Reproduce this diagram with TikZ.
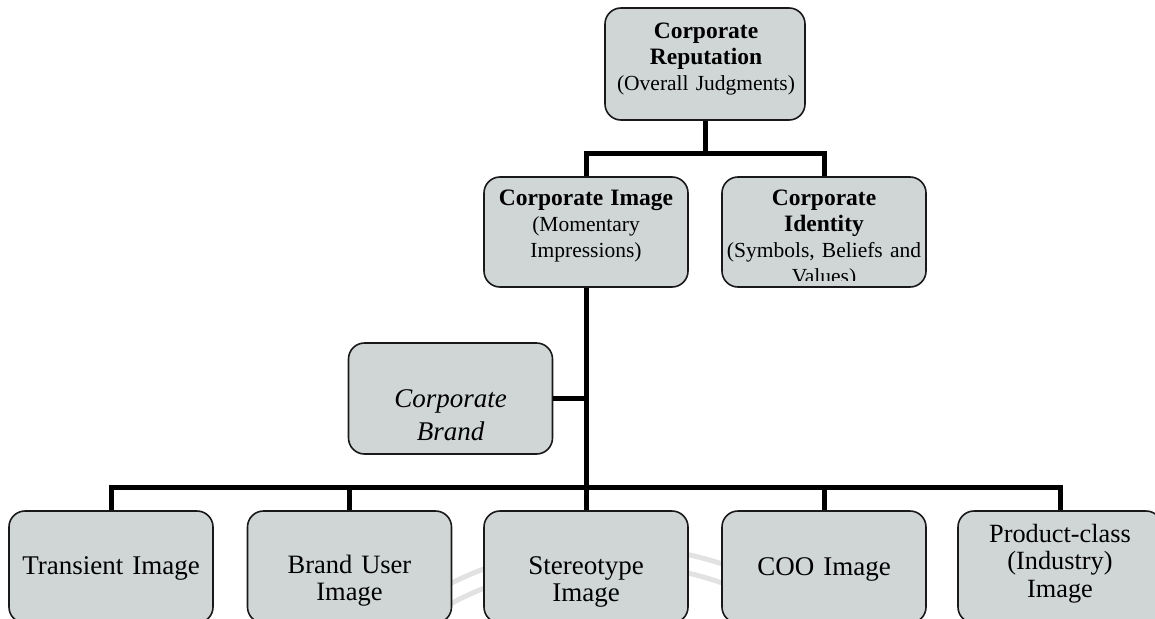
\documentclass[tikz,border=0pt]{standalone}
\usepackage{fontspec}
\setmainfont{Liberation Serif}
\definecolor{boxgray}{RGB}{208,213,213}
\definecolor{wmgray}{RGB}{226,226,226}
\begin{document}
\begin{tikzpicture}[x=1pt,y=-1pt,
  box/.style={draw=black!90, line width=1.6pt, fill=boxgray, rounded corners=16pt,
    minimum width=204pt, minimum height=111pt, inner sep=0pt},
  conn/.style={line width=5pt, line join=miter, draw=black},
  lbl/.style={anchor=base, inner sep=0pt, text width=200pt, align=center},
  upper/.style={lbl, font=\fontsize{21.5}{26}\selectfont},
  lower/.style={lbl, font=\fontsize{27}{27.5}\selectfont}]
\useasboundingbox (0,0) rectangle (1155,618);
\clip (0,0) rectangle (1155,618);
% faint watermark arcs
\draw[wmgray, line width=5pt] (610,903) circle[radius=357pt];
\draw[wmgray, line width=5pt] (610,903) circle[radius=339pt];
% boxes
\node[box, minimum width=200pt, minimum height=112pt] (rep) at (705,64) {};
\node[box, minimum height=110pt] (img) at (586,232) {};
\node[box, minimum height=110pt] (idt) at (824,232) {};
\node[box] (brand) at (450.5,398.5) {};
\node[box, minimum height=112pt] (t1) at (111,567) {};
\node[box, minimum height=112pt] (t2) at (349.5,567) {};
\node[box, minimum height=112pt] (t3) at (586,567) {};
\node[box, minimum height=112pt] (t4) at (824,567) {};
\node[box, minimum height=112pt] (t5) at (1060,567) {};
% connectors
\coordinate (j1) at (705,153);
\coordinate (j2) at (586,487);
\draw[conn] (rep.south) -- (j1);
\draw[conn] (img.north) |- (j1) -| (idt.north);
\draw[conn] (img.south) -- (j2);
\draw[conn] (brand.east) -- (brand.east -| img.south);
\draw[conn] (t1.north) |- (j2) -| (t5.north);
\draw[conn] (j2) -- (t3.north);
\draw[conn] (t2.north) -- (t2.north |- j2);
\draw[conn] (t4.north) -- (t4.north |- j2);
% texts
\node[upper] (rep-l) at (706,38) {{\fontsize{23.5}{26}\selectfont\bfseries Corporate}\\{\fontsize{23.5}{26}\selectfont\bfseries Reputation}\\(Overall Judgments)};
\node[upper] (img-l) at (586,205) {{\fontsize{23.5}{26}\selectfont\bfseries Corporate Image}\\(Momentary\\Impressions)};
\begin{scope}
\clip (722,177) rectangle (926,280);
\node[upper] (idt-l) at (824,205) {{\fontsize{23.5}{26}\selectfont\bfseries Corporate}\\{\fontsize{23.5}{26}\selectfont\bfseries Identity}\\(Symbols, Beliefs and\\Values)};
\end{scope}
\node[lbl, font=\fontsize{27}{33}\selectfont\itshape] (brand-l) at (450.5,407) {Corporate\\Brand};
\node[lower] (t1-l) at (111,574) {Transient Image};
\node[lower, font=\fontsize{26.5}{27.5}\selectfont] (t2-l) at (349.5,573) {Brand User\\Image};
\node[lower] (t3-l) at (586,574) {Stereotype\\Image};
\node[lower] (t4-l) at (824,575) {COO Image};
\node[lower, font=\fontsize{26.3}{27.5}\selectfont] (t5-l) at (1060,542) {Product-class\\(Industry)\\Image};
\end{tikzpicture}
\end{document}
